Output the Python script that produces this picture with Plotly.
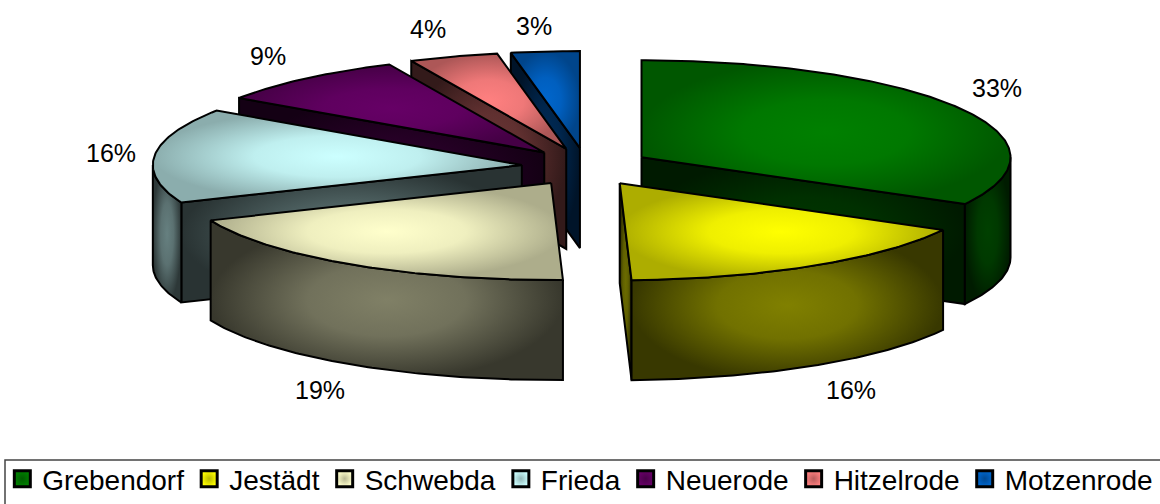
import math
import plotly.graph_objects as go

categories = ["Grebendorf", "Jestädt", "Schwebda", "Frieda", "Neuerode", "Hitzelrode", "Motzenrode"]
values = [33.0, 16.49, 19.21, 15.8, 8.6, 3.9, 3.0]
base_colors = ["#008000", "#ffff00", "#ffffcc", "#ccffff", "#660066", "#ff8080", "#0066cc"]

# Projection of the tilted pie onto the 1160x504 pixel canvas
CX, CY = 586.0, 167.0
RX, RY = 369.0, 97.0
DEPTH = 100.0
EXPLODE_X, EXPLODE_Y = 64.5, 19.0
DRAW_ORDER = [6, 5, 4, 3, 2, 0, 1]
LABEL_POS = [(997, 88), (851, 390), (320, 390), (111, 153), (268, 56), (428, 29), (534, 26)]


def shade(hex_color, f):
    r, g, b = (int(hex_color[i:i + 2], 16) for i in (1, 3, 5))
    return f"rgb({round(r * f)},{round(g * f)},{round(b * f)})"


def arc(ax, ay, a0, a1, dy=0.0):
    n = max(2, int(abs(a1 - a0) * 1.5))
    pts = [a0 + (a1 - a0) * i / n for i in range(n + 1)]
    return ([ax + RX * math.sin(math.radians(t)) for t in pts],
            [ay - RY * math.cos(math.radians(t)) + dy for t in pts])


def face(xs, ys, color, inner, outer):
    mid = inner - (inner - outer) * 0.2
    return go.Scatter(
        x=xs + xs[:1], y=ys + ys[:1], mode="lines", fill="toself",
        line=dict(color="black", width=2), showlegend=False, hoverinfo="skip",
        fillgradient=dict(type="radial", colorscale=[
            [0, shade(color, inner)], [0.45, shade(color, mid)], [1, shade(color, outer)]]),
    )


fig = go.Figure()

total = sum(values)
spans = []
a = 0.0
for v in values:
    spans.append((a, a + 360.0 * v / total))
    a = spans[-1][1]

for idx in DRAW_ORDER:
    a0, a1 = spans[idx]
    mid = math.radians((a0 + a1) / 2)
    ax = CX + EXPLODE_X * math.sin(mid)
    ay = CY - EXPLODE_Y * math.cos(mid)
    col = base_colors[idx]

    # inner walls that face the viewer
    for ang, visible in ((a0, math.sin(math.radians(a0)) < -1e-6), (a1, math.sin(math.radians(a1)) > 1e-6)):
        if visible:
            ex = ax + RX * math.sin(math.radians(ang))
            ey = ay - RY * math.cos(math.radians(ang))
            fig.add_trace(face([ax, ex, ex, ax], [ay, ey, ey + DEPTH, ay + DEPTH], col, 0.42, 0.2))

    # outer rim, front half only
    r0, r1 = max(a0, 90.0), min(a1, 270.0)
    if r0 < r1:
        tx, ty = arc(ax, ay, r0, r1)
        bx, by = arc(ax, ay, r1, r0, DEPTH)
        fig.add_trace(face(tx + bx, ty + by, col, 0.5, 0.22))

    # top face
    tx, ty = arc(ax, ay, a0, a1)
    fig.add_trace(face([ax] + tx, [ay] + ty, col, 1.0, 0.68))

# legend entries
for name, col in zip(categories, base_colors):
    fig.add_trace(go.Scatter(
        x=[None], y=[None], mode="markers", name=name,
        marker=dict(symbol="square", size=16, color=col, line=dict(color="black", width=3),
                    gradient=dict(type="radial", color=shade(col, 0.72))),
    ))

for v, (lx, ly) in zip(values, LABEL_POS):
    fig.add_annotation(x=lx, y=ly, text=f"{round(v)}%", showarrow=False,
                       font=dict(family="Liberation Sans", size=25, color="black"))

fig.add_shape(type="rect", x0=5, y0=460, x1=1170, y1=515, line=dict(color="#444444", width=1.5), layer="below")

fig.update_layout(
    width=1160, height=504, autosize=False,
    margin=dict(l=0, r=0, t=0, b=0),
    paper_bgcolor="white", plot_bgcolor="white",
    xaxis=dict(range=[0, 1160], visible=False, fixedrange=True),
    yaxis=dict(range=[504, 0], visible=False, fixedrange=True),
    legend=dict(orientation="h", x=0.002, y=0.0, xanchor="left", yanchor="bottom",
                font=dict(family="Liberation Sans", size=28, color="black"),
                bgcolor="rgba(0,0,0,0)", borderwidth=0, itemwidth=30, traceorder="normal"),
)

fig.write_html("out.html", config={"displayModeBar": False},
               post_script="document.body.style.margin='0';document.documentElement.style.overflow='hidden';")
